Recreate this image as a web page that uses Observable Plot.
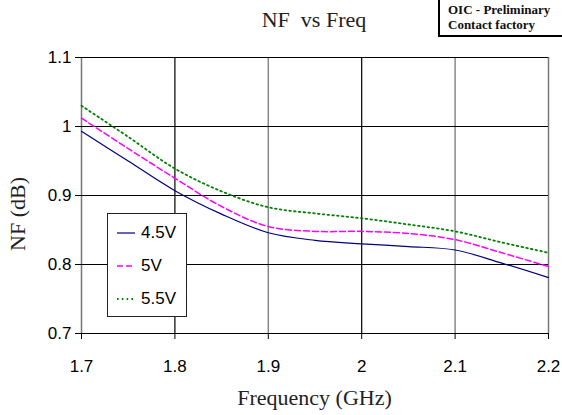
<!DOCTYPE html>
<html>
<head>
<meta charset="utf-8">
<script src="https://cdn.jsdelivr.net/npm/d3@7"></script>
<script src="https://cdn.jsdelivr.net/npm/@observablehq/plot@0.6"></script>
<style>
  html, body { margin: 0; padding: 0; background: #fff; }
  #wrap { position: relative; width: 562px; height: 415px; overflow: hidden; }
  #chart { position: absolute; left: 0; top: 0; }
  #chart svg text { font-family: "Liberation Sans", Arial, sans-serif; }
  .serif { font-family: "Liberation Serif", "Times New Roman", serif; color: #222; position: absolute; white-space: nowrap; }
  #title { left: 0; width: 628px; top: 7px; text-align: center; font-size: 22px; }
  #xlabel { left: 81px; width: 467px; top: 385px; text-align: center; font-size: 22px; }
  #ylabel { left: 18px; top: 214px; font-size: 22px; transform: translate(-50%, -50%) rotate(-90deg); }
  #note { position: absolute; left: 438px; top: 0px; width: 140px; height: 33px; border-left: 2px solid #000; border-bottom: 2px solid #000; background: #fff; font-family: "Liberation Serif", serif; font-weight: bold; font-size: 13px; line-height: 15px; padding-left: 8px; padding-top: 2px; color: #111; overflow: hidden; box-sizing: content-box; }
  #legend { position: absolute; left: 107px; top: 213px; width: 78px; height: 102px; border: 1px solid #222; background: #fff; font-family: "Liberation Sans", Arial, sans-serif; font-size: 17px; color: #000; }
  .item { position: absolute; left: 9px; height: 20px; display: flex; align-items: center; }
  .item span { margin-left: 6px; }
</style>
</head>
<body>
<div id="wrap">
  <div id="chart"></div>
  <div id="title" class="serif">NF&nbsp; vs Freq</div>
  <div id="xlabel" class="serif">Frequency (GHz)</div>
  <div id="ylabel" class="serif">NF (dB)</div>
  <div id="note">OIC - Preliminary<br>Contact factory</div>
  <div id="legend"></div>
</div>
<script>
const freq = [1.7, 1.75, 1.8, 1.85, 1.9, 1.95, 2.0, 2.05, 2.1, 2.15, 2.2];
const nf45 = [0.993, 0.950, 0.907, 0.873, 0.846, 0.835, 0.830, 0.826, 0.821, 0.802, 0.781];
const nf50 = [1.012, 0.968, 0.925, 0.884, 0.855, 0.848, 0.848, 0.845, 0.836, 0.817, 0.797];
const nf55 = [1.030, 0.985, 0.939, 0.906, 0.883, 0.874, 0.867, 0.858, 0.848, 0.832, 0.817];
const seriesNames = ["4.5V", "5V", "5.5V"];
const seriesColors = ["#000080", "#ff00ff", "#008000"];
const seriesDash = [null, "6,3", "1.6,3.2"];
const seriesWidth = [1.2, 1.5, 1.8];
const xTicks = [1.7, 1.8, 1.9, 2.0, 2.1, 2.2];
const yTicks = [0.7, 0.8, 0.9, 1.0, 1.1];

const allSeries = [nf45, nf50, nf55];
const rows = allSeries.flatMap((vals, i) => vals.map((v, j) => ({f: freq[j], nf: v, s: seriesNames[i]})));

const fmt = d => String(+d.toFixed(1));
const sans = "Liberation Sans, Arial, sans-serif";

const lines = seriesNames.map((name, i) =>
  Plot.line(rows.filter(r => r.s === name), {
    x: "f", y: "nf", stroke: seriesColors[i], strokeWidth: seriesWidth[i],
    strokeDasharray: seriesDash[i], curve: "catmull-rom"
  })
);

const chart = Plot.plot({
  width: 562, height: 415,
  marginLeft: 81, marginRight: 14, marginTop: 57, marginBottom: 82,
  style: {fontFamily: sans, fontSize: "17px", color: "#000", background: "transparent"},
  x: {domain: [1.7, 2.2], ticks: xTicks, tickFormat: fmt, label: null},
  y: {domain: [0.7, 1.1], ticks: yTicks, tickFormat: fmt, label: null},
  marks: [
    Plot.ruleX([1.8, 2.0], {stroke: "#000", strokeWidth: 1.2}),
    Plot.ruleX([1.9, 2.1], {stroke: "#888", strokeWidth: 1.5}),
    Plot.ruleX([1.7, 2.2], {stroke: "#777", strokeWidth: 1.5}),
    Plot.ruleY([0.8, 0.9, 1.0, 1.1], {stroke: "#000", strokeWidth: 1.2}),
    Plot.ruleY([0.7], {stroke: "#000", strokeWidth: 1.2}),
    ...lines,
    Plot.axisX({ticks: xTicks, tickFormat: fmt, tickSize: 6, tickPadding: 20, stroke: "#000", fontSize: 17, fontFamily: sans, label: null}),
    Plot.axisY({ticks: yTicks, tickFormat: fmt, tickSize: 6, tickPadding: 4, stroke: "#000", fontSize: 17, fontFamily: sans, label: null})
  ]
});
document.getElementById("chart").appendChild(chart);

// legend
const legend = document.getElementById("legend");
const tops = [9, 42, 75];
seriesNames.forEach((name, i) => {
  const item = document.createElement("div");
  item.className = "item";
  item.style.top = tops[i] + "px";
  const dash = seriesDash[i] ? `stroke-dasharray="${seriesDash[i]}"` : "";
  item.innerHTML = `<svg width="18" height="6"><line x1="0" y1="3" x2="18" y2="3" stroke="${seriesColors[i]}" stroke-width="${seriesWidth[i]}" ${dash}/></svg><span>${name}</span>`;
  legend.appendChild(item);
});
</script>
</body>
</html>
